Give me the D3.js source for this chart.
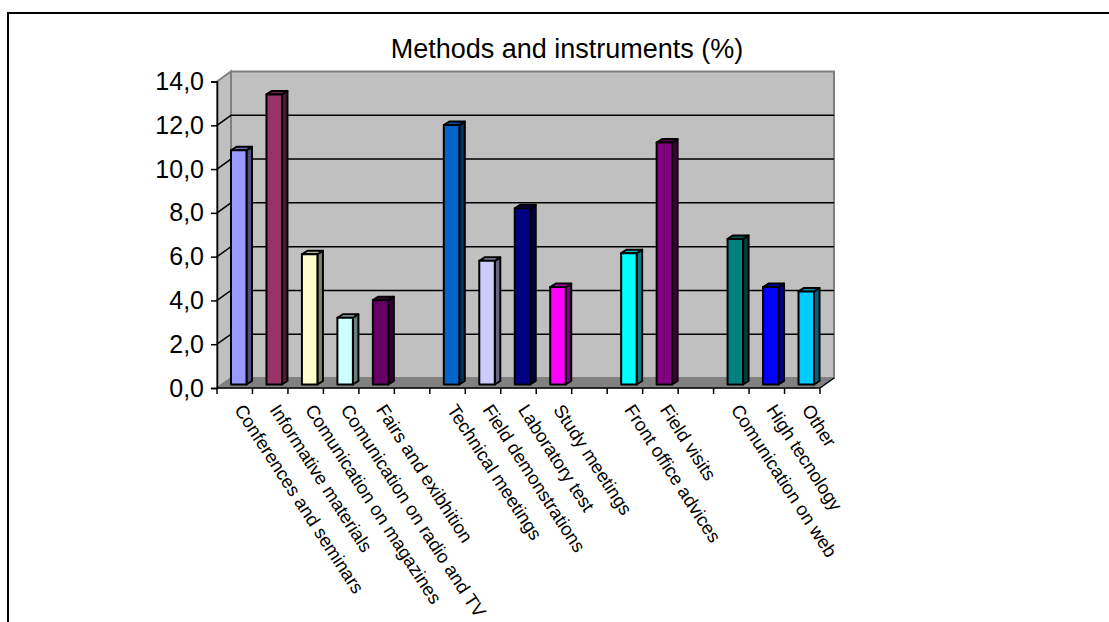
<!DOCTYPE html>
<html><head><meta charset="utf-8">
<script src="https://cdn.jsdelivr.net/npm/d3@7/dist/d3.min.js"></script>
<style>html,body{margin:0;padding:0;background:#fff;overflow:hidden}svg{display:block}text{font-family:"Liberation Sans",Arial,sans-serif;fill:#000}</style>
</head><body>
<svg id="c" width="1109" height="622"></svg>
<script>
const slots = ["Conferences and seminars","Informative materials","Comunication on magazines","Comunication on radio and TV","Fairs and exibhition","·gap1","Technical meetings","Field demonstrations","Laboratory test","Study meetings","·gap2","Front office advices","Field visits","·gap3","Comunication on web","High tecnology","Other"];
const categories = ["Conferences and seminars","Informative materials","Comunication on magazines","Comunication on radio and TV","Fairs and exibhition","Technical meetings","Field demonstrations","Laboratory test","Study meetings","Front office advices","Field visits","Comunication on web","High tecnology","Other"];
const values = [10.7,13.25,5.95,3.05,3.85,11.85,5.65,8.05,4.45,6.0,11.05,6.65,4.45,4.25];
const colors = ["#9999ff","#993366","#ffffcc","#ccffff","#660066","#0066cc","#ccccff","#000080","#ff00ff","#00ffff","#800080","#008080","#0000ff","#00ccff"];
const yTicks = [0,2,4,6,8,10,12,14];
const titleText = "Methods and instruments (%)";

const svg = d3.select("#c");
const x = d3.scaleBand().domain(slots).range([217,820]).padding(0);
const y = d3.scaleLinear().domain([0,14]).range([388,81.5]);
const dx = 14, dy = -10;
const fmt = v => v.toFixed(1).replace(".",",");
const poly = p => p.map(a=>a.join(",")).join(" ");
const shade = (c,f) => { const r = d3.rgb(c); return d3.rgb(r.r*f,r.g*f,r.b*f).formatHex(); };

svg.append("path").attr("d","M8,622V13H1109").attr("fill","none").attr("stroke","#000").attr("stroke-width",2);

// walls
svg.append("polygon").attr("points",poly([[217,y(14)],[217+dx,y(14)+dy],[217+dx,y(0)+dy],[217,y(0)]])).attr("fill","#c0c0c0").attr("stroke","#808080").attr("stroke-width",2);
svg.append("polygon").attr("points",poly([[217+dx,y(14)+dy],[820+dx,y(14)+dy],[820+dx,y(0)+dy],[217+dx,y(0)+dy]])).attr("fill","#c0c0c0").attr("stroke","#808080").attr("stroke-width",2);
svg.append("polygon").attr("points",poly([[217,y(0)],[217+dx,y(0)+dy],[820+dx,y(0)+dy],[820,y(0)]])).attr("fill","#808080").attr("stroke","#808080");

// gridlines
svg.append("g").selectAll("path").data(yTicks.filter(d=>d>0&&d<14)).join("path")
 .attr("d",d=>`M217,${y(d)}L${217+dx},${y(d)+dy}L${820+dx},${y(d)+dy}`)
 .attr("fill","none").attr("stroke","#000").attr("stroke-width",1.5);

// bars
const bw = 15.5, bdx = 5.5, bdy = -3.5, ox = 4, oy = -3.5;
const g = svg.append("g").attr("stroke","#000").attr("stroke-width",2).attr("stroke-linejoin","round");
categories.forEach((c,i)=>{
  const x0 = x(c)+x.bandwidth()/2-bw/2+ox, x1 = x0+bw;
  const yb = y(0)+oy, yt = y(values[i])+oy;
  g.append("polygon").attr("points",poly([[x1,yt],[x1+bdx,yt+bdy],[x1+bdx,yb+bdy],[x1,yb]])).attr("fill",shade(colors[i],0.5));
  g.append("polygon").attr("points",poly([[x0,yt],[x0+bdx,yt+bdy],[x1+bdx,yt+bdy],[x1,yt]])).attr("fill",shade(colors[i],0.72));
  g.append("rect").attr("x",x0).attr("y",yt).attr("width",bw).attr("height",yb-yt).attr("fill",colors[i]);
});

// axes
const yAxis = d3.axisLeft(y).tickValues(yTicks).tickSize(6).tickPadding(7).tickFormat(fmt);
const ya = svg.append("g").attr("transform","translate(217,0)").call(yAxis);
ya.selectAll("text").style("font-size","25px").style("font-family",'"Liberation Sans",Arial,sans-serif');
ya.selectAll("line,path").attr("stroke","#000").attr("stroke-width",1.5);

const tickPos = d3.range(slots.length+1).map(i=>217+i*x.step());
const xAxisG = svg.append("g");
xAxisG.append("line").attr("x1",217).attr("x2",820).attr("y1",y(0)).attr("y2",y(0)).attr("stroke","#000").attr("stroke-width",1.5);
xAxisG.selectAll("line.t").data(tickPos).join("line").attr("class","t").attr("x1",d=>d).attr("x2",d=>d).attr("y1",y(0)).attr("y2",y(0)+6).attr("stroke","#000").attr("stroke-width",1.5);
svg.append("line").attr("x1",820).attr("y1",y(0)).attr("x2",820+dx).attr("y2",y(0)+dy).attr("stroke","#000").attr("stroke-width",1.5);

// labels
svg.append("g").selectAll("text").data(categories).join("text")
 .attr("transform",d=>`translate(${x(d)+x.bandwidth()/2+3},407) rotate(57)`)
 .attr("text-anchor","start").attr("dominant-baseline","middle")
 .style("font-size","18.5px").text(d=>d);

svg.append("text").attr("x",567).attr("y",58).attr("text-anchor","middle").style("font-size","27px").text(titleText);
</script>
</body></html>
